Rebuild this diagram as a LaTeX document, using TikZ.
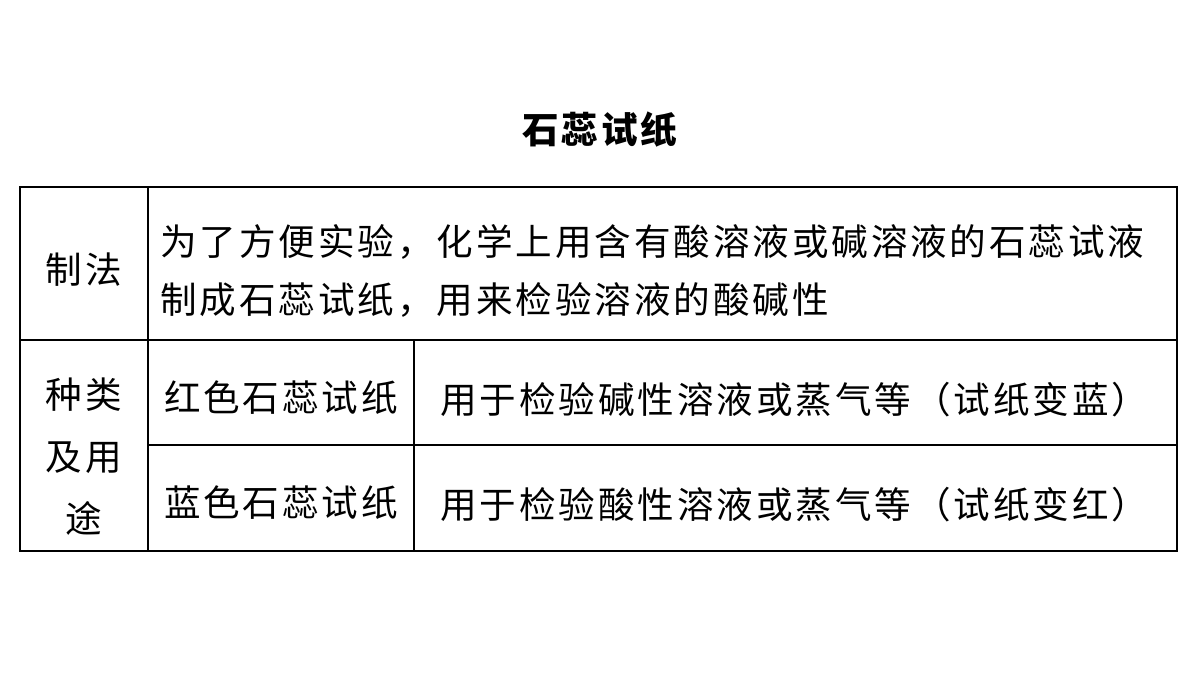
\documentclass[tikz,border=0pt]{standalone}
\usepackage{fontspec}
\newfontfamily\cjk[LetterSpace=8]{Noto Sans CJK SC}
\begin{document}
\begin{tikzpicture}[x=0.025cm,y=-0.025cm,inner sep=0pt,
  cell/.style={font=\cjk\fontsize{26}{30}\selectfont},
  lcell/.style={cell,anchor=west},
  grid/.style={draw=black,line width=0.8pt}]
\useasboundingbox (0,0) rectangle (1200,675);
%Title
\node [cell,font=\cjk\bfseries\fontsize{26}{30}\selectfont] (Title) at (600,130) {石蕊试纸};
%Grid
\draw [grid] (20,187) rectangle (1177,551);
\draw [grid] (20,340) -- (1177,340);
\draw [grid] (148,445) -- (1177,445);
\draw [grid] (148,187) -- (148,551);
\draw [grid] (414,340) -- (414,551);
%Cell Labels
\node [cell] (Method) at (84,270) {制法};
\node [lcell] (MethodA) at (160,242) {为了方便实验，化学上用含有酸溶液或碱溶液的石蕊试液};
\node [lcell] (MethodB) at (160,300) {制成石蕊试纸，用来检验溶液的酸碱性};
\node [cell] (KindA) at (84,395) {种类};
\node [cell] (KindB) at (84,458) {及用};
\node [cell] (KindC) at (84,518) {途};
\node [cell] (Red) at (281,398) {红色石蕊试纸};
\node [lcell] (RedUse) at (440,400) {用于检验碱性溶液或蒸气等（试纸变蓝）};
\node [cell] (Blue) at (281,503) {蓝色石蕊试纸};
\node [lcell] (BlueUse) at (440,505) {用于检验酸性溶液或蒸气等（试纸变红）};
\end{tikzpicture}
\end{document}
